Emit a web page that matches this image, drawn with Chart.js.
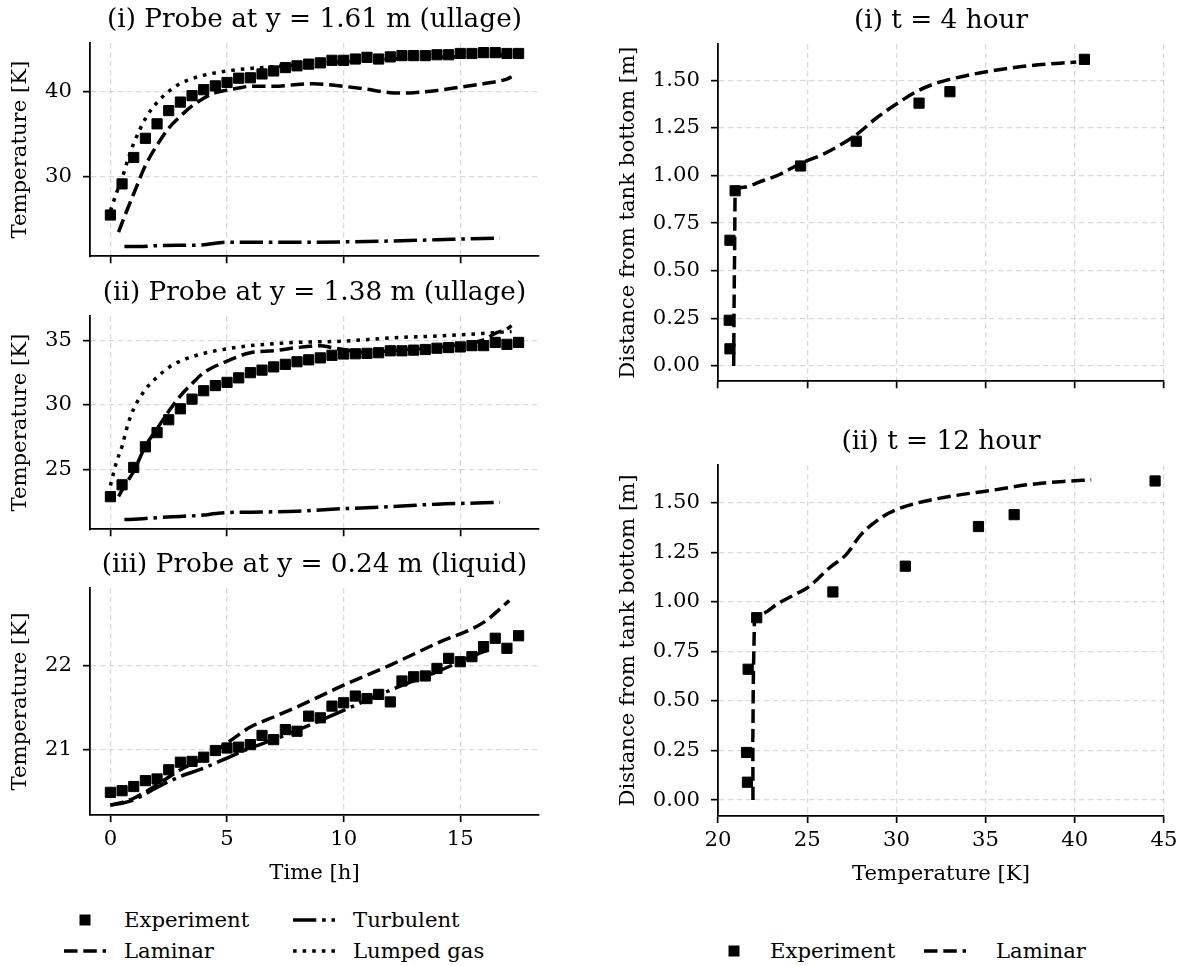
<!DOCTYPE html>
<html><head><meta charset="utf-8">
<script src="https://cdn.jsdelivr.net/npm/chart.js@4.4.1/dist/chart.umd.min.js"></script>
<style>
html,body{margin:0;padding:0;background:#fff;}
body{width:1184px;height:966px;overflow:hidden;position:relative;font-family:"DejaVu Serif",serif;}
canvas{position:absolute;}
.lg{position:absolute;font-size:21.2px;line-height:26px;white-space:nowrap;color:#000;font-family:"DejaVu Serif",serif;}
.sym{position:absolute;}
</style></head><body>
<canvas id="p1" width="560" height="273" style="left:0px;top:7px"></canvas>
<canvas id="p2" width="560" height="273" style="left:0px;top:280px"></canvas>
<canvas id="p3" width="560" height="338" style="left:0px;top:552px"></canvas>
<canvas id="r1" width="576" height="397" style="left:608px;top:8px"></canvas>
<canvas id="r2" width="576" height="462" style="left:608px;top:429px"></canvas>

<svg class="sym" style="left:64px;top:913px" width="42" height="14"><rect x="15.5" y="1.5" width="11" height="11" fill="#000"/></svg>
<div class="lg" style="left:124px;top:907px">Experiment</div>
<svg class="sym" style="left:64px;top:944px" width="42" height="14"><line x1="0" y1="7" x2="42" y2="7" stroke="#000" stroke-width="3.5" stroke-dasharray="13.5 5.8"/></svg>
<div class="lg" style="left:124px;top:938px">Laminar</div>
<svg class="sym" style="left:293px;top:913px" width="42" height="14"><line x1="0" y1="7" x2="42" y2="7" stroke="#000" stroke-width="3.5" stroke-dasharray="23.3 5.8 3.6 5.8"/></svg>
<div class="lg" style="left:353px;top:907px">Turbulent</div>
<svg class="sym" style="left:293px;top:944px" width="42" height="14"><line x1="0" y1="7" x2="42" y2="7" stroke="#000" stroke-width="3.5" stroke-dasharray="3.6 6"/></svg>
<div class="lg" style="left:353px;top:938px">Lumped gas</div>

<svg class="sym" style="left:713px;top:944px" width="42" height="14"><rect x="15.5" y="1.5" width="11" height="11" fill="#000"/></svg>
<div class="lg" style="left:770px;top:938px">Experiment</div>
<svg class="sym" style="left:924px;top:944px" width="42" height="14"><line x1="0" y1="7" x2="42" y2="7" stroke="#000" stroke-width="3.5" stroke-dasharray="13.5 5.8"/></svg>
<div class="lg" style="left:996px;top:938px">Laminar</div>

<script>
// ---------------- DATA ----------------
const timeExp = [0,0.5,1,1.5,2,2.5,3,3.5,4,4.5,5,5.5,6,6.5,7,7.5,8,8.5,9,9.5,10,10.5,11,11.5,12,12.5,13,13.5,14,14.5,15,15.5,16,16.5,17,17.5];

// (i) probe at 1.61 m
const p1Exp = [25.5,29.15,32.25,34.5,36.2,37.75,38.75,39.5,40.2,40.65,41.05,41.55,41.6,42.05,42.4,42.8,43.0,43.2,43.35,43.65,43.65,43.8,44.0,43.8,44.05,44.2,44.2,44.2,44.3,44.3,44.45,44.45,44.55,44.55,44.45,44.45];
const p1LamT = [0.35,0.6,1,1.5,2,2.5,3,3.5,4,4.5,5,5.5,6,7,8,8.7,9.5,10,11,12,12.5,13,14,15,16,17,17.2];
const p1Lam  = [23.5,25.3,28.0,31.3,33.7,35.7,37.1,38.3,39.2,39.85,40.15,40.4,40.6,40.6,40.8,40.9,40.75,40.6,40.25,39.85,39.8,39.85,40.1,40.5,40.9,41.45,41.7];
const p1TurT = [0.6,1.2,2,3,4,4.4,4.8,5,6,8,10,12,14,16,16.7];
const p1Tur  = [21.8,21.8,21.9,21.95,22.0,22.15,22.28,22.3,22.3,22.3,22.35,22.45,22.6,22.75,22.8];
const p1LumT = [0,0.25,0.5,0.75,1,1.5,2,2.5,3,3.5,4,5,6,7,8,10,12,14,16,17.2];
const p1Lum  = [26.0,28.0,29.8,32.0,33.9,36.8,38.7,40.0,40.95,41.5,41.9,42.4,42.7,42.9,43.1,43.5,43.8,44.0,44.2,44.3];

// (ii) probe at 1.38 m
const p2Exp = [22.88,23.8,25.15,26.75,27.85,28.85,29.7,30.45,31.1,31.5,31.75,32.1,32.5,32.7,32.95,33.15,33.35,33.5,33.65,33.85,33.95,33.97,34.0,34.05,34.2,34.2,34.25,34.3,34.4,34.45,34.5,34.6,34.6,34.85,34.7,34.85];
const p2LamT = [0.35,0.6,1,1.5,2,2.5,3,3.5,4,5,6,7,8,9,9.5,10,11,12,13,14,15,16,16.5,17,17.2];
const p2Lam  = [22.9,23.7,24.85,26.8,28.15,29.5,30.7,31.65,32.5,33.4,34.05,34.2,34.45,34.6,34.45,34.3,34.05,34.2,34.35,34.45,34.7,35.05,35.55,35.9,36.15];
const p2TurT = [0.6,1.2,2,3,4,4.4,4.8,5,6,8,10,12,14,16,16.7];
const p2Tur  = [21.1,21.15,21.25,21.35,21.45,21.55,21.62,21.65,21.68,21.75,21.95,22.1,22.3,22.4,22.45];
const p2LumT = [0,0.25,0.5,0.75,1,1.5,2,2.5,3,4,5,6,8,10,12,14,16,17.2];
const p2Lum  = [23.75,25.5,26.8,28.5,29.7,31.2,32.15,32.9,33.4,34.0,34.35,34.6,34.85,34.95,35.2,35.35,35.55,35.7];

// (iii) probe at 0.24 m
const p3Exp = [20.49,20.51,20.56,20.63,20.65,20.76,20.85,20.86,20.91,20.99,21.02,21.03,21.06,21.17,21.12,21.24,21.22,21.40,21.38,21.52,21.56,21.64,21.61,21.66,21.57,21.82,21.87,21.88,21.97,22.09,22.05,22.11,22.23,22.33,22.21,22.36];
const p3LamT = [0,0.5,1,2,3,4,5,6,7,8,10,12,14,16,17.1];
const p3Lam  = [20.34,20.37,20.42,20.58,20.76,20.9,21.08,21.27,21.39,21.51,21.77,22.01,22.27,22.52,22.78];
const p3TurT = [0,0.5,1,2,3,4,5,6,7,8,10,12,14,16,16.3];
const p3Tur  = [20.34,20.36,20.4,20.55,20.68,20.78,20.9,21.02,21.12,21.23,21.47,21.71,21.93,22.17,22.2];

// profiles
const probeHeights = [0.09,0.24,0.66,0.92,1.05,1.18,1.38,1.44,1.61];
const r1Exp = [20.67,20.63,20.67,20.96,24.63,27.75,31.27,33.0,40.54];
const r1LamTemp = [20.88,20.9,20.93,20.96,21.33,22.58,23.42,24.63,25.92,27.75,28.83,29.98,31.13,32.17,33.0,34.88,37.38,40.08];
const r1LamY    = [0,0.3,0.6,0.9,0.937,0.975,1.004,1.063,1.113,1.214,1.298,1.374,1.441,1.483,1.505,1.542,1.576,1.596];
const r2Exp = [21.65,21.6,21.69,22.17,26.44,30.5,34.6,36.6,44.5];
const r2LamTemp = [21.96,21.95,21.98,22.02,22.05,22.38,23.42,24.25,25.08,26.33,27.17,28.0,29.25,30.08,31.13,33.21,35.29,37.38,39.46,40.92];
const r2LamY    = [0,0.3,0.6,0.8,0.91,0.938,0.995,1.034,1.076,1.178,1.237,1.338,1.431,1.468,1.498,1.535,1.562,1.591,1.608,1.616];

// ticks
const timeTicks = [0,5,10,15];
const p1Ticks = [30,40];
const p2Ticks = [25,30,35];
const p3Ticks = [21,22];
const tempTicks = [20,25,30,35,40,45];
const heightTicks = [0,0.25,0.5,0.75,1.0,1.25,1.5];
const heightTickLabels = ['0.00','0.25','0.50','0.75','1.00','1.25','1.50'];

// ---------------- STYLE ----------------
const FONT = "'DejaVu Serif', serif";
Chart.defaults.font.family = FONT;
Chart.defaults.color = '#000';
const tickFont = {family: FONT, size: 21.2, lineHeight: 1.2};
const labelFont = {family: FONT, size: 21.2, lineHeight: 1.2};
const titleFont = {family: FONT, size: 26.3, lineHeight: 1.0, weight: 'normal'};
const gridColor = 'rgba(0,0,0,0.14)';
const LW = 3.5;
const DASH = [13.5, 5.8], DOT = [3.6, 6], DASHDOT = [23.3, 5.8, 3.6, 5.8];

function pts(xs, ys){ return xs.map((x,i)=>({x:x, y:ys[i]})); }

function expSet(xs, ys){
  return {label:'Experiment', data: pts(xs, ys), showLine:false, pointStyle:'rect',
    pointRadius:7.2, pointHoverRadius:7.2, pointBorderWidth:1, backgroundColor:'#000', borderColor:'#000', order:10};
}
function lineSet(label, xs, ys, dash, order){
  return {label, data: pts(xs, ys), showLine:true, pointRadius:0, pointHoverRadius:0,
    borderColor:'#000', backgroundColor:'#000', borderWidth:LW, borderDash:dash,
    borderCapStyle:'butt', borderJoinStyle:'round', tension:0, cubicInterpolationMode:'monotone', order};
}

function scale(axis, min, max, ticks, labels, showLabels, title, size){
  const s = {
    type:'linear', min, max,
    afterBuildTicks: sc => { sc.ticks = ticks.map(v=>({value:v})); },
    ticks: {display: showLabels, font: tickFont, color:'#000', padding: axis==='x'?5:11,
      autoSkip:false, maxRotation:0,
      callback: (v) => { const i = ticks.indexOf(v); return labels ? labels[i] : String(v); }},
    grid: {color: gridColor, lineWidth: 1.3, drawTicks: true, tickLength: 7,
      tickColor:'#000', tickWidth: 1.7, tickBorderDash: []},
    border: {display:true, color:'#000', width:1.8, dash:[5.5,3.5]},
    title: {display: !!title, text: title || '', font: labelFont, color:'#000',
      padding: {top: 8, bottom: 4}}
  };
  if (axis === 'x') s.afterFit = sc => { sc.height = size; };
  else s.afterFit = sc => { sc.width = size; };
  return s;
}

function makeChart(id, datasets, titleText, xs, ys, padRight){
  return new Chart(document.getElementById(id), {
    type:'scatter',
    data:{datasets},
    options:{
      responsive:false, animation:false, events:[],
      font:{family: FONT},
      layout:{padding:{top:0, left:0, right:padRight, bottom:0}},
      plugins:{
        legend:{display:false}, tooltip:{enabled:false},
        title:{display:true, text:titleText, font:titleFont, color:'#000', fullSize:false,
          padding:{top:0, bottom:9.7}}
      },
      scales:{x:xs, y:ys}
    }
  });
}

const xMin = -0.875, xMax = 18.375;

makeChart('p1', [
  expSet(timeExp, p1Exp),
  lineSet('Laminar', p1LamT, p1Lam, DASH, 1),
  lineSet('Turbulent', p1TurT, p1Tur, DASHDOT, 2),
  lineSet('Lumped gas', p1LumT, p1Lum, DOT, 3)
], '(i) Probe at y = 1.61 m (ullage)',
  scale('x', xMin, xMax, timeTicks, null, false, '', 10),
  scale('y', 20.66, 45.68, p1Ticks, null, true, 'Temperature [K]', 90), 21);

makeChart('p2', [
  expSet(timeExp, p2Exp),
  lineSet('Laminar', p2LamT, p2Lam, DASH, 1),
  lineSet('Turbulent', p2TurT, p2Tur, DASHDOT, 2),
  lineSet('Lumped gas', p2LumT, p2Lum, DOT, 3)
], '(ii) Probe at y = 1.38 m (ullage)',
  scale('x', xMin, xMax, timeTicks, null, false, '', 10),
  scale('y', 20.35, 36.9, p2Ticks, null, true, 'Temperature [K]', 90), 21);

makeChart('p3', [
  expSet(timeExp, p3Exp),
  lineSet('Laminar', p3LamT, p3Lam, DASH, 1),
  lineSet('Turbulent', p3TurT, p3Tur, DASHDOT, 2)
], '(iii) Probe at y = 0.24 m (liquid)',
  scale('x', xMin, xMax, timeTicks, null, true, 'Time [h]', 75),
  scale('y', 20.22, 22.93, p3Ticks, null, true, 'Temperature [K]', 90), 21);

makeChart('r1', [
  expSet(r1Exp, probeHeights),
  lineSet('Laminar', r1LamTemp, r1LamY, DASH, 1)
], '(i) t = 4 hour',
  scale('x', 20, 45, tempTicks, null, false, '', 10),
  scale('y', -0.0805, 1.6905, heightTicks, heightTickLabels, true, 'Distance from tank bottom [m]', 110), 20);

makeChart('r2', [
  expSet(r2Exp, probeHeights),
  lineSet('Laminar', r2LamTemp, r2LamY, DASH, 1)
], '(ii) t = 12 hour',
  scale('x', 20, 45, tempTicks, null, true, 'Temperature [K]', 75),
  scale('y', -0.0805, 1.6905, heightTicks, heightTickLabels, true, 'Distance from tank bottom [m]', 110), 20);
</script>
</body></html>
